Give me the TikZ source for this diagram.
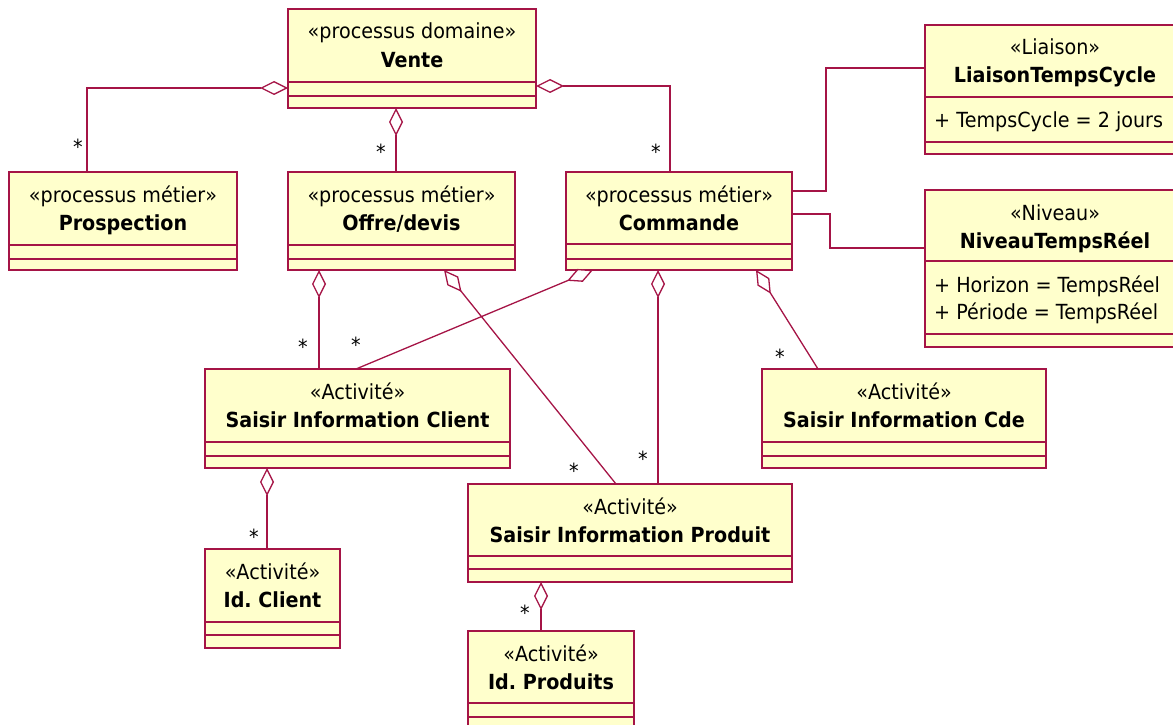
\documentclass[tikz,border=0pt]{standalone}
\usepackage{fontspec}
\setmainfont{DejaVu Sans}[FakeStretch=0.92]
\usetikzlibrary{arrows.meta,calc}
\definecolor{umlline}{RGB}{165,20,70}
\definecolor{umlfill}{RGB}{255,255,204}
\frenchspacing

\tikzset{
  classbox/.style={draw=umlline, fill=umlfill, line width=1.2pt, inner sep=0pt, outer sep=0pt},
  classsep/.style={draw=umlline, line width=1.2pt},
  umltext/.style={inner sep=0pt, anchor=base, font=\fontsize{20.8}{25}\selectfont},
  stereo/.style={umltext},
  classname/.style={umltext, font=\fontsize{20.8}{25}\selectfont\bfseries},
  attr/.style={umltext, anchor=base west},
  mult/.style={umltext},
  assoc/.style={draw=umlline, line width=1.3pt},
  agg/.style={assoc, {Diamond[length=28pt, width=14pt, fill=white, line width=1.3pt]}-},
}

% \umlclass{name}{x1}{y1}{x2}{y2}{sep1}{sep2}{stereotype}{title}
\newcommand\umlclass[9]{%
  \node[classbox, minimum width={#4-#2}, minimum height={#5-#3}, anchor=north west] (#1) at (#2,#3) {};
  \draw[classsep] (#2,#6) -- (#4,#6);
  \draw[classsep] (#2,#7) -- (#4,#7);
  \node[stereo] (#1-st) at ({(#2+#4)/2},#3+30) {«#8»};
  \node[classname] (#1-nm) at ({(#2+#4)/2},#3+58) {#9};
}

\begin{document}
\frenchspacing
\begin{tikzpicture}[x=1pt, y=-1pt]
  \path[use as bounding box] (0,0) rectangle (1173,725);
  \clip (0,0) rectangle (1173,725);

  % classes
  \umlclass{vente}{288}{9}{536}{108}{82}{96}{processus domaine}{Vente}
  \umlclass{prosp}{9}{172}{237}{270}{245}{259}{processus métier}{Prospection}
  \umlclass{offre}{288}{172}{515}{270}{245}{259}{processus métier}{Offre/devis}
  \umlclass{cmd}{566}{172}{792}{270}{244}{259}{processus métier}{Commande}
  \umlclass{liaison}{925}{25}{1185}{154}{97}{142}{Liaison}{LiaisonTempsCycle}
  \umlclass{niveau}{925}{190}{1185}{347}{261}{334}{Niveau}{NiveauTempsRéel}
  \umlclass{sclient}{205}{369}{510}{468}{442}{456}{Activité}{Saisir Information Client}
  \umlclass{scde}{762}{369}{1046}{468}{442}{456}{Activité}{Saisir Information Cde}
  \umlclass{sprod}{468}{484}{792}{582}{556}{569}{Activité}{Saisir Information Produit}
  \umlclass{idclient}{205}{549}{340}{648}{622}{635}{Activité}{Id. Client}
  \umlclass{idprod}{468}{631}{634}{740}{703}{717}{Activité}{Id. Produits}

  % attributes
  \node[attr] (a1) at (934,128) {+ TempsCycle = 2 jours};
  \node[attr] (a2) at (934,292) {+ Horizon = TempsRéel};
  \node[attr] (a3) at (934,319) {+ Période = TempsRéel};

  % aggregations
  \draw[agg] ($(vente.north west)+(0,79)$) -| ($(prosp.north west)+(78,0)$);
  \draw[agg] ($(vente.south west)+(108,0)$) -- ($(offre.north west)+(108,0)$);
  \draw[agg] ($(vente.north east)+(0,77)$) -| ($(cmd.north west)+(104,0)$);
  \draw[agg] ($(offre.south west)+(31,0)$) -- ($(sclient.north west)+(114,0)$);
  \draw[agg] ($(cmd.south west)+(27,0)$) -- ($(sclient.north west)+(151,0)$);
  \draw[agg] ($(offre.south west)+(156,0)$) -- ($(sprod.north west)+(148,0)$);
  \draw[agg] ($(cmd.south west)+(92,0)$) -- ($(sprod.north west)+(190,0)$);
  \draw[agg] ($(cmd.south west)+(190,0)$) -- ($(scde.north west)+(56,0)$);
  \draw[agg] ($(sclient.south west)+(62,0)$) -- ($(idclient.north west)+(62,0)$);
  \draw[agg] ($(sprod.south west)+(73,0)$) -- ($(idprod.north west)+(73,0)$);

  % plain associations
  \draw[assoc] ($(cmd.north east)+(0,19)$) -- ++(34,0) |- ($(liaison.north west)+(0,43)$);
  \draw[assoc] ($(cmd.north east)+(0,42)$) -- ++(38,0) |- ($(niveau.north west)+(0,58)$);

  % multiplicities
  \node[mult] (m1) at (78,154) {*};
  \node[mult] (m2) at (381,159) {*};
  \node[mult] (m3) at (656,159) {*};
  \node[mult] (m4) at (303,354) {*};
  \node[mult] (m5) at (356,352) {*};
  \node[mult] (m6) at (574,478) {*};
  \node[mult] (m7) at (643,466) {*};
  \node[mult] (m8) at (780,364) {*};
  \node[mult] (m9) at (254,544) {*};
  \node[mult] (m10) at (525,620) {*};
\end{tikzpicture}
\end{document}
